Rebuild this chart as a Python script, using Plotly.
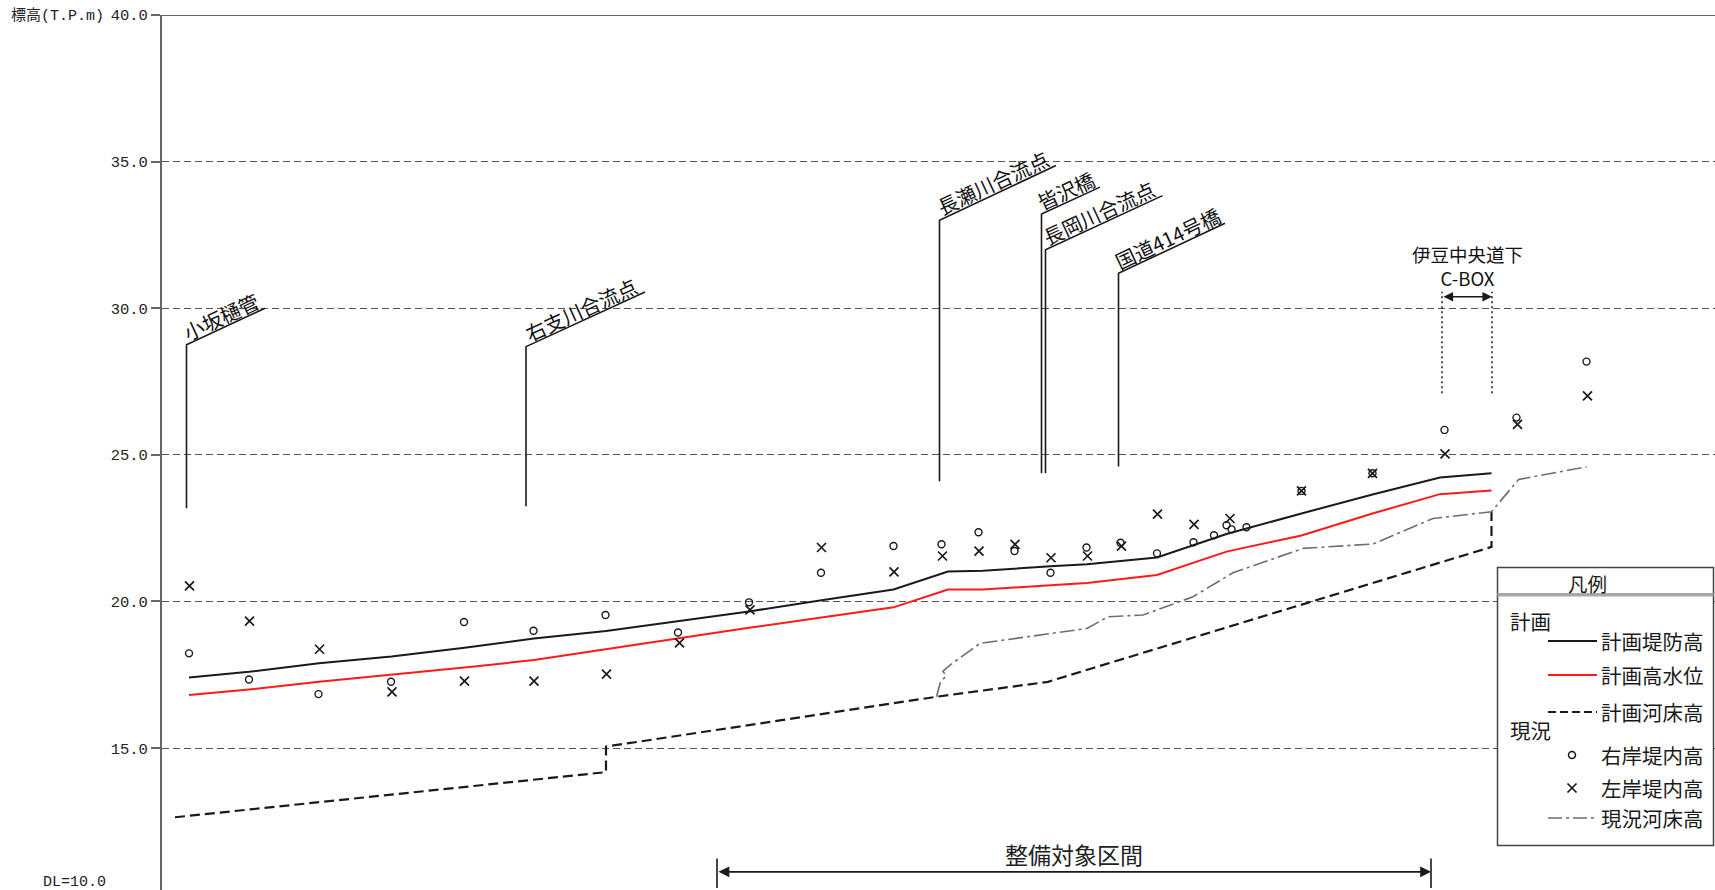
import math
import plotly.graph_objects as go

# ---------------------------------------------------------------- canvas
W, H = 1715, 890
ML, MR, MT, MB = 162, 0, 15, 0
X_RANGE = [0, 3106]        # 追加距離 (m)
Y_RANGE = [10.16, 40.0]    # 標高 (T.P.m)

FONT_JP = "Noto Sans CJK JP"
FONT_NUM = "Liberation Mono, Noto Sans CJK JP"

# ---------------------------------------------------------------- 計画
plan_x = [54, 174, 314, 459, 605, 744, 888, 1033, 1174, 1319, 1463, 1572,
          1642, 1777, 1850, 1990, 2129, 2279, 2421, 2556, 2659]
plan_dike = [17.41, 17.60, 17.89, 18.12, 18.42, 18.74, 18.99, 19.33, 19.66,
             20.04, 20.41, 21.02, 21.05, 21.20, 21.27, 21.50, 22.30, 23.00,
             23.65, 24.23, 24.37]
plan_hwl = [16.81, 17.00, 17.26, 17.50, 17.75, 18.00, 18.37, 18.75, 19.10,
            19.45, 19.80, 20.41, 20.41, 20.55, 20.63, 20.90, 21.70, 22.25,
            23.00, 23.66, 23.78]
plan_bed_x = [26, 888, 888, 1549, 1772, 1864, 2659, 2659]
plan_bed = [12.64, 14.18, 15.05, 16.75, 17.26, 17.74, 21.86, 23.06]

# ---------------------------------------------------------------- 現況
now_bed_x = [1549, 1557, 1568, 1562, 1576, 1636, 1850, 1892, 1962, 2062,
             2142, 2282, 2422, 2542, 2659, 2713, 2849]
now_bed = [16.75, 17.26, 17.45, 17.62, 17.83, 18.57, 19.08, 19.48, 19.54,
           20.16, 20.98, 21.81, 21.96, 22.83, 23.06, 24.16, 24.59]

right_x = [54, 174, 313, 458, 604, 743, 887, 1032, 1174, 1318, 1463, 1559,
           1633, 1705, 1777, 1849, 1917, 1990, 2063, 2104, 2129, 2139, 2169,
           2279, 2421, 2565, 2709, 2849]
right_z = [18.23, 17.34, 16.84, 17.26, 19.30, 19.00, 19.54, 18.94, 19.97,
           20.98, 21.89, 21.95, 22.36, 21.72, 20.98, 21.84, 22.00, 21.64,
           22.02, 22.26, 22.60, 22.46, 22.53, 23.77, 24.37, 25.85, 26.27,
           28.18]
left_x = [55, 175, 315, 460, 605, 744, 889, 1035, 1176, 1319, 1464, 1561,
          1634, 1706, 1778, 1851, 1919, 1991, 2064, 2136, 2279, 2421, 2566,
          2711, 2851]
left_z = [20.53, 19.33, 18.37, 16.92, 17.28, 17.28, 17.52, 18.59, 19.71,
          21.84, 21.01, 21.55, 21.72, 21.95, 21.49, 21.55, 21.89, 22.98,
          22.63, 22.83, 23.77, 24.37, 25.03, 26.04, 27.01]

# ---------------------------------------------------------------- 主要地点
site_names = ["小坂樋管", "右支川合流点", "長瀬川合流点", "皆沢橋",
              "長岡川合流点", "国道414号橋"]
site_x = [49, 728, 1555, 1759, 1767, 1913]
site_base = [23.18, 23.25, 24.10, 24.37, 24.37, 24.60]
site_top = [28.75, 28.69, 33.00, 33.21, 31.99, 31.19]
site_end_x = [206, 966, 1788, 1876, 2001, 2126]
site_end_z = [30.00, 30.55, 34.87, 34.13, 33.84, 32.90]

# 伊豆中央道下 C-BOX
cbox_x = [2560, 2660]
cbox_arrow_z = 30.39
cbox_guide_z = [27.10, 30.56]
cbox_label = "伊豆中央道下<br>C-BOX"
cbox_label_z = 31.43

# 整備対象区間
reach_x = [1110, 2538]
reach_z = 10.78
reach_tick_z = [10.23, 11.23]
reach_label_z = 11.38

ytick_vals = [15, 20, 25, 30, 35, 40]
ytick_text = [f"{v:.1f}" for v in ytick_vals]

# ---------------------------------------------------------------- helpers
PW, PH = W - ML - MR, H - MT - MB
PX_PER_X = PW / (X_RANGE[1] - X_RANGE[0])
PX_PER_Y = PH / (Y_RANGE[1] - Y_RANGE[0])


def px2x(px):
    return (px - ML) / PW


def py2y(py):
    return (H - MB - py) / PH


INK = "#1a1a1a"

fig = go.Figure()

fig.add_trace(go.Scatter(x=plan_bed_x, y=plan_bed, mode="lines",
                         line=dict(color=INK, width=2.2, dash="10px,5px"),
                         name="計画河床高"))
fig.add_trace(go.Scatter(x=now_bed_x, y=now_bed, mode="lines",
                         line=dict(color="#6e6e6e", width=1.6,
                                   dash="15px,4px,3px,4px"),
                         name="現況河床高"))
fig.add_trace(go.Scatter(x=plan_x, y=plan_hwl, mode="lines",
                         line=dict(color="#ff1a1a", width=2),
                         name="計画高水位"))
fig.add_trace(go.Scatter(x=plan_x, y=plan_dike, mode="lines",
                         line=dict(color=INK, width=2),
                         name="計画堤防高"))
fig.add_trace(go.Scatter(x=right_x, y=right_z, mode="markers",
                         marker=dict(symbol="circle-open", size=7, color=INK,
                                     line=dict(width=1.4, color=INK)),
                         name="右岸堤内高"))
fig.add_trace(go.Scatter(x=left_x, y=left_z, mode="markers",
                         marker=dict(symbol="x-thin-open", size=9, color=INK,
                                     line=dict(width=1.7, color=INK)),
                         name="左岸堤内高"))

annotations = []
shapes = []

# leader lines and slanted labels for the landmarks
for name, sx, zb, zt, ex, ez in zip(site_names, site_x, site_base, site_top,
                                    site_end_x, site_end_z):
    fig.add_trace(go.Scatter(x=[sx, sx, ex], y=[zb, zt, ez], mode="lines",
                             line=dict(color=INK, width=1.6),
                             hoverinfo="skip"))
    dx = (ex - sx) * PX_PER_X
    dy = (ez - zt) * PX_PER_Y
    ang = math.atan2(dy, dx)
    off = 11
    annotations.append(dict(
        x=(sx + ex) / 2, y=(zt + ez) / 2, xref="x", yref="y",
        text=name, showarrow=False, textangle=-math.degrees(ang),
        xanchor="center", yanchor="middle",
        xshift=-off * math.sin(ang), yshift=off * math.cos(ang),
        font=dict(family=FONT_JP, size=20, color="#111")))

# 伊豆中央道下 C-BOX
for cx in cbox_x:
    shapes.append(dict(type="line", xref="x", yref="y", x0=cx, x1=cx,
                       y0=cbox_guide_z[0], y1=cbox_guide_z[1],
                       line=dict(color=INK, width=1.5, dash="2px,3px")))
annotations.append(dict(x=cbox_x[1], y=cbox_arrow_z, ax=cbox_x[0],
                        ay=cbox_arrow_z, xref="x", yref="y", axref="x",
                        ayref="y", text="", showarrow=True,
                        arrowside="end+start", arrowhead=2, arrowsize=1.2,
                        arrowwidth=1.6, arrowcolor=INK, standoff=0,
                        startstandoff=0))
annotations.append(dict(x=sum(cbox_x) / 2, y=cbox_label_z, xref="x",
                        yref="y", text=cbox_label, showarrow=False,
                        xanchor="center", yanchor="middle",
                        font=dict(family=FONT_JP, size=18.5, color="#111")))

# 整備対象区間
for rx in reach_x:
    shapes.append(dict(type="line", xref="x", yref="y", x0=rx, x1=rx,
                       y0=reach_tick_z[0], y1=reach_tick_z[1],
                       line=dict(color=INK, width=1.6)))
annotations.append(dict(x=reach_x[1], y=reach_z, ax=reach_x[0], ay=reach_z,
                        xref="x", yref="y", axref="x", ayref="y", text="",
                        showarrow=True, arrowside="end+start", arrowhead=2,
                        arrowsize=1.2, arrowwidth=1.8, arrowcolor=INK,
                        standoff=0, startstandoff=0))
annotations.append(dict(x=sum(reach_x) / 2, y=reach_label_z, xref="x",
                        yref="y", text="整備対象区間", showarrow=False,
                        xanchor="center", yanchor="middle",
                        font=dict(family=FONT_JP, size=23, color="#222")))

# top frame line at 40.0
shapes.append(dict(type="line", xref="paper", yref="y", x0=0, x1=1,
                   y0=Y_RANGE[1], y1=Y_RANGE[1],
                   line=dict(color="#666", width=2), layer="above"))

# axis captions
annotations.append(dict(x=px2x(9), y=py2y(16), xref="paper", yref="paper",
                        text="標高(T.P.m)", showarrow=False, xanchor="left",
                        yanchor="middle",
                        font=dict(family=FONT_NUM, size=15, color="#222")))
annotations.append(dict(x=px2x(41), y=py2y(882), xref="paper", yref="paper",
                        text="DL=10.0", showarrow=False, xanchor="left",
                        yanchor="middle",
                        font=dict(family=FONT_NUM, size=15, color="#222")))

# ---------------------------------------------------------------- 凡例
BX0, BX1, BY0, BY1 = 1497.5, 1713.5, 567.5, 845.5
shapes.append(dict(type="rect", xref="paper", yref="paper",
                   x0=px2x(BX0), x1=px2x(BX1), y0=py2y(BY1), y1=py2y(BY0),
                   line=dict(color="#444", width=1.5), fillcolor="white",
                   layer="above"))
shapes.append(dict(type="rect", xref="paper", yref="paper",
                   x0=px2x(BX0), x1=px2x(BX1), y0=py2y(596.5), y1=py2y(593),
                   line=dict(width=0), fillcolor="#a8a8a8", layer="above"))


def legend_text(txt, px, py, anchor="left", size=20.5):
    annotations.append(dict(x=px2x(px), y=py2y(py), xref="paper",
                            yref="paper", text=txt, showarrow=False,
                            xanchor=anchor, yanchor="middle",
                            font=dict(family=FONT_JP, size=size,
                                      color="#1a1a1a")))


def legend_line(py, color, width, dash):
    shapes.append(dict(type="line", xref="paper", yref="paper",
                       x0=px2x(1548), x1=px2x(1597), y0=py2y(py),
                       y1=py2y(py), line=dict(color=color, width=width,
                                              dash=dash), layer="above"))


legend_text("凡例", 1587, 583, anchor="center", size=19.5)
legend_text("計画", 1508, 621)
legend_line(641, INK, 2, "solid")
legend_text("計画堤防高", 1599, 641)
legend_line(675, "#ff1a1a", 2, "solid")
legend_text("計画高水位", 1599, 675)
legend_line(712, INK, 2, "8px,4px")
legend_text("計画河床高", 1599, 712)
legend_text("現況", 1508, 730)
shapes.append(dict(type="circle", xref="paper", yref="paper",
                   x0=px2x(1568.5), x1=px2x(1575.5), y0=py2y(758.5),
                   y1=py2y(751.5), line=dict(color=INK, width=1.5),
                   layer="above"))
legend_text("右岸堤内高", 1599, 755)
for a, b in [((1567.5, 783.5), (1576.5, 792.5)),
             ((1567.5, 792.5), (1576.5, 783.5))]:
    shapes.append(dict(type="line", xref="paper", yref="paper",
                       x0=px2x(a[0]), y0=py2y(a[1]), x1=px2x(b[0]),
                       y1=py2y(b[1]), line=dict(color=INK, width=1.7),
                       layer="above"))
legend_text("左岸堤内高", 1599, 788)
legend_line(818, "#6e6e6e", 1.6, "14px,4px,3px,4px")
legend_text("現況河床高", 1599, 818)

fig.update_layout(
    width=W, height=H,
    margin=dict(l=ML, r=MR, t=MT, b=MB, pad=0),
    paper_bgcolor="white", plot_bgcolor="white",
    showlegend=False,
    font=dict(family=FONT_JP),
    xaxis=dict(range=X_RANGE, visible=False, fixedrange=True),
    yaxis=dict(range=Y_RANGE, tickvals=ytick_vals, ticktext=ytick_text,
               showline=True, linecolor="#666", linewidth=2,
               ticks="outside", ticklen=9, tickcolor="#666", tickwidth=1.5,
               tickfont=dict(family=FONT_NUM, size=15.5, color="#222"),
               showgrid=True, gridcolor="#555", gridwidth=1.3,
               griddash="7px,4px", zeroline=False, fixedrange=True),
    annotations=annotations,
    shapes=shapes,
)

fig.write_html("out.html", config={"displayModeBar": False})
